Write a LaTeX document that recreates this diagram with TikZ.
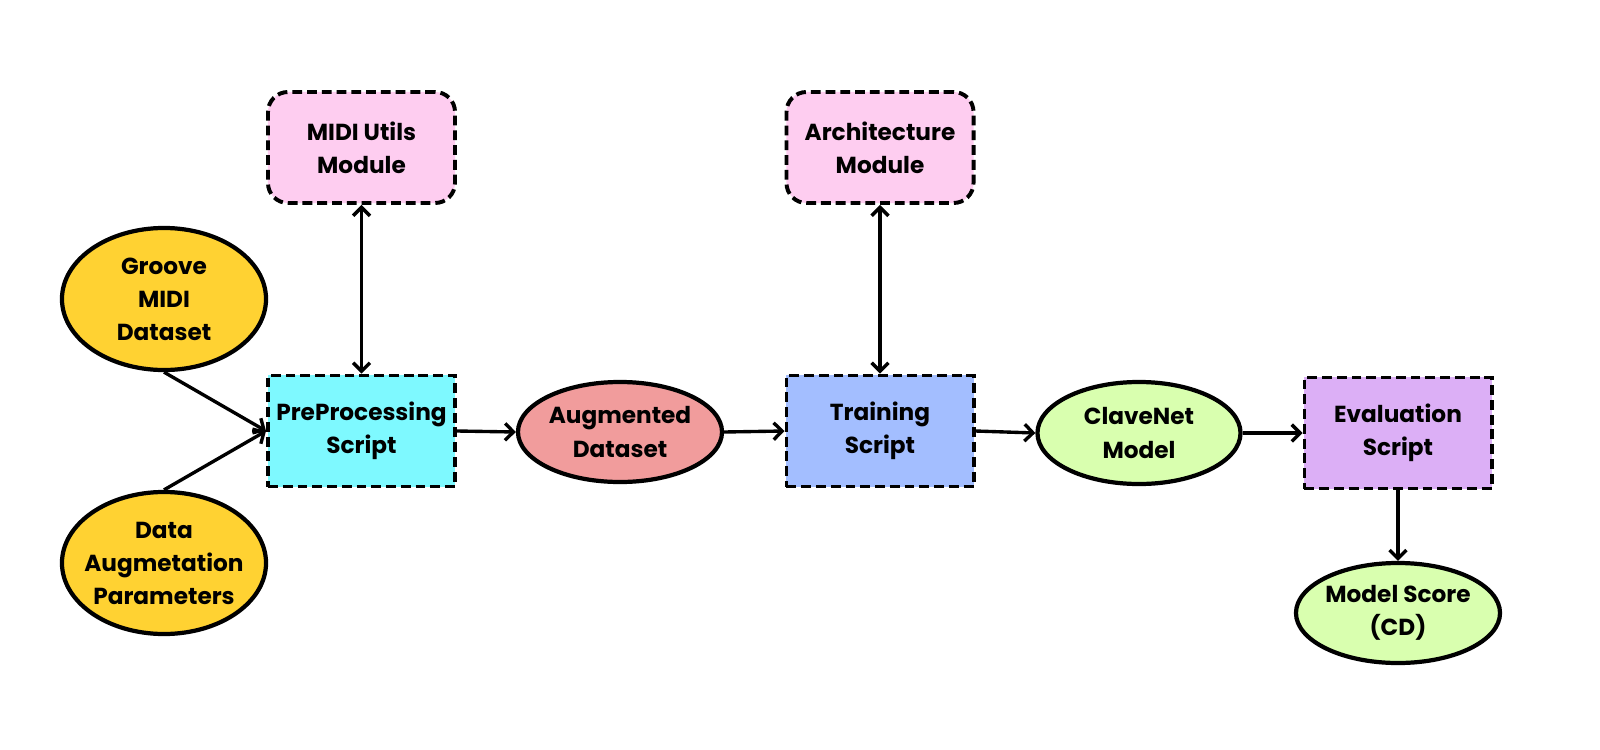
\documentclass[tikz,border=0pt]{standalone}
\usepackage{fontspec}
\setmainfont{Poppins}[BoldFont={Poppins Bold}]
\usetikzlibrary{shapes.geometric,arrows.meta}
\definecolor{cyellow}{HTML}{FFD232}
\definecolor{cpink}{HTML}{FECDF0}
\definecolor{ccyan}{HTML}{7EF9FF}
\definecolor{csalmon}{HTML}{F19C9C}
\definecolor{cblue}{HTML}{A3BEFF}
\definecolor{cgreen}{HTML}{D9FFAF}
\definecolor{cpurple}{HTML}{DCAFF6}
\tikzset{
  txt/.style={font=\bfseries\fontsize{16.5}{23.5}\selectfont, align=center},
  oval/.style={ellipse, draw=black, line width=3pt, inner sep=0pt, minimum width=5.1cm, minimum height=2.5cm},
  boxdash/.style={rectangle, draw=black, line width=2.8pt, dash pattern=on 7pt off 3.5pt, inner sep=0pt, minimum width=4.675cm, minimum height=2.775cm},
  modbox/.style={boxdash, rounded corners=0.5cm},
  conn/.style={line width=2.4pt, -{Straight Barb[length=6pt,width=12pt,line width=2.4pt]}},
  biconn/.style={line width=2.4pt, {Straight Barb[length=6pt,width=12pt,line width=2.4pt]}-{Straight Barb[length=6pt,width=12pt,line width=2.4pt]}}
}
\begin{document}
\begin{tikzpicture}[x=0.025cm,y=-0.025cm]
\fill[white] (0,0) rectangle (1600,750);
\useasboundingbox (0,0) rectangle (1600,750);
% nodes
\node[oval, fill=cyellow, minimum height=3.55cm, label={[txt]center:Groove\\MIDI\\Dataset}] (gmd) at (164,299) {};
\node[oval, fill=cyellow, minimum height=3.55cm, label={[txt]center:Data\\Augmetation\\Parameters}] (dap) at (164,563) {};
\node[modbox, fill=cpink, label={[txt]center:MIDI Utils\\Module}] (mum) at (361.5,147.5) {};
\node[boxdash, fill=ccyan, label={[txt]center:PreProcessing\\Script}] (pps) at (361.5,431) {};
\node[oval, fill=csalmon, label={[txt]center:Augmented\\Dataset}] (aug) at (620,432) {};
\node[modbox, fill=cpink, label={[txt]center:Architecture\\Module}] (arc) at (880,147.5) {};
\node[boxdash, fill=cblue, label={[txt]center:Training\\Script}] (trn) at (880,431) {};
\node[oval, fill=cgreen, minimum width=5.075cm, minimum height=2.55cm, label={[txt]center:ClaveNet\\Model}] (cnm) at (1139,433) {};
\node[boxdash, fill=cpurple, label={[txt]center:Evaluation\\Script}] (evs) at (1398,433) {};
\node[oval, fill=cgreen, label={[txt]center:Model Score\\(CD)}] (msc) at (1398,613) {};
% connectors
\draw[conn] (gmd.south) -- (pps.west);
\draw[conn] (dap.north) -- (pps.west);
\draw[biconn] (mum.south) -- (pps.north);
\draw[conn] (pps.east) -- (aug.west);
\draw[conn] (aug.east) -- (trn.west);
\draw[biconn] (arc.south) -- (trn.north);
\draw[conn] (trn.east) -- (cnm.west);
\draw[conn] (cnm.east) -- (evs.west);
\draw[conn] (evs.south) -- (msc.north);
\end{tikzpicture}
\end{document}
